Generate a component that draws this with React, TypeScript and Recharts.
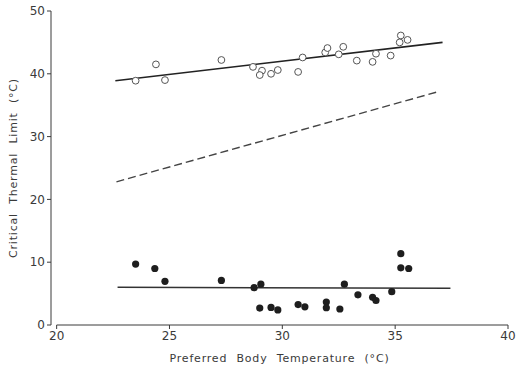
import React from 'react';
import { ComposedChart, Scatter, Line, XAxis, YAxis, ReferenceLine, Label } from 'recharts';

// preferred body temperature (x) vs critical thermal maximum (open circles)
const ctMaxX = [23.5, 24.4, 24.8, 27.3, 28.7, 29.1, 29.0, 29.5, 29.8, 30.7, 30.9, 31.9, 32.0, 32.5, 32.7, 33.3, 34.0, 34.15, 34.8, 35.25, 35.2, 35.55];
const ctMaxY = [38.9, 41.5, 39.0, 42.2, 41.1, 40.5, 39.8, 40.0, 40.6, 40.3, 42.6, 43.4, 44.1, 43.1, 44.3, 42.1, 41.9, 43.2, 42.9, 46.1, 45.0, 45.4];

// critical thermal minimum (filled circles)
const ctMinX = [23.5, 24.35, 24.8, 27.3, 28.75, 29.05, 29.0, 29.5, 29.8, 30.7, 31.0, 31.95, 31.95, 32.55, 32.75, 33.35, 34.0, 34.15, 34.85, 35.25, 35.25, 35.6];
const ctMinY = [9.7, 9.0, 6.95, 7.1, 5.95, 6.5, 2.7, 2.8, 2.4, 3.25, 2.9, 3.65, 2.75, 2.55, 6.5, 4.8, 4.4, 3.9, 5.3, 11.35, 9.1, 9.0];

// fitted lines [x start, x end], [y start, y end]
const maxFitX = [22.6, 37.1];
const maxFitY = [38.9, 45.0];
const dashFitX = [22.65, 36.9];
const dashFitY = [22.8, 37.15];
const minFitX = [22.7, 37.45];
const minFitY = [6.0, 5.85];

const xTicks = [20, 25, 30, 35, 40];
const yTicks = [0, 10, 20, 30, 40, 50];

const zip = (xs: number[], ys: number[]) => xs.map((x, i) => ({ x, y: ys[i] }));

const FONT = '"DejaVu Sans", sans-serif';
const INK = '#3a3a3a';

export default function App() {
  return (
    <div style={{ position: 'absolute', left: 0, top: 0, background: '#fff' }}>
      <ComposedChart
        width={516}
        height={365}
        margin={{ top: 11, right: 8, bottom: 0, left: 0 }}
      >
        <XAxis
          dataKey="x"
          type="number"
          domain={[19.75, 40]}
          ticks={xTicks}
          allowDataOverflow
          axisLine={false}
          tickLine={{ stroke: INK }}
          tickSize={4}
          tick={{ fill: INK, fontSize: 12, fontFamily: FONT }}
          height={40}
        >
          <Label
            value="Preferred Body Temperature (°C)"
            position="insideBottom"
            offset={3}
            style={{ fill: INK, fontSize: 11, fontFamily: FONT, letterSpacing: 0.8, wordSpacing: 5 }}
          />
        </XAxis>
        <YAxis
          dataKey="y"
          type="number"
          domain={[0, 50]}
          ticks={yTicks}
          width={51}
          axisLine={{ stroke: INK }}
          tickLine={{ stroke: INK }}
          tickSize={4}
          tick={{ fill: INK, fontSize: 12, fontFamily: FONT }}
        >
          <Label
            value="Critical Thermal Limit (°C)"
            angle={-90}
            position="insideLeft"
            offset={13}
            style={{ fill: INK, fontSize: 11, fontFamily: FONT, letterSpacing: 0.8, wordSpacing: 5, textAnchor: 'middle' }}
          />
        </YAxis>
        <ReferenceLine
          segment={[{ x: 20, y: 0 }, { x: 40, y: 0 }]}
          stroke={INK}
          strokeWidth={1}
        />
        <Line
          data={zip(maxFitX, maxFitY)}
          dataKey="y"
          type="linear"
          stroke="#222"
          strokeWidth={1.6}
          dot={false}
          isAnimationActive={false}
        />
        <Line
          data={zip(dashFitX, dashFitY)}
          dataKey="y"
          type="linear"
          stroke="#444"
          strokeWidth={1.4}
          strokeDasharray="8 4"
          dot={false}
          isAnimationActive={false}
        />
        <Line
          data={zip(minFitX, minFitY)}
          dataKey="y"
          type="linear"
          stroke="#333"
          strokeWidth={1.4}
          dot={false}
          isAnimationActive={false}
        />
        <Scatter
          data={zip(ctMaxX, ctMaxY)}
          isAnimationActive={false}
          shape={(p: any) => (
            <circle cx={p.cx} cy={p.cy} r={3.4} fill="#fff" stroke="#555" strokeWidth={1} />
          )}
        />
        <Scatter
          data={zip(ctMinX, ctMinY)}
          isAnimationActive={false}
          shape={(p: any) => <circle cx={p.cx} cy={p.cy} r={3.6} fill="#1e1e1e" />}
        />
      </ComposedChart>
    </div>
  );
}
